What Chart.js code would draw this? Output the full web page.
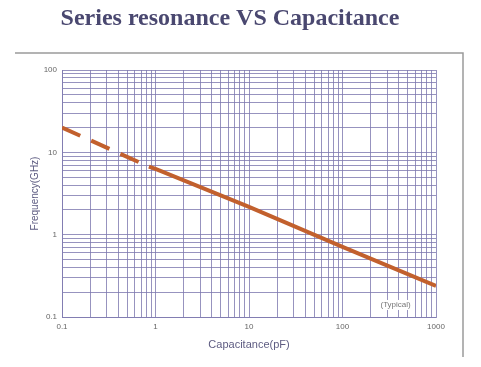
<!DOCTYPE html>
<html>
<head>
<meta charset="utf-8">
<script src="https://cdn.jsdelivr.net/npm/chart.js@4.4.0/dist/chart.umd.min.js"></script>
<style>
  html, body { margin: 0; padding: 0; background: #fff; }
  #wrap { width: 481px; height: 367px; }
</style>
</head>
<body>
<div id="wrap"><canvas id="chart" width="481" height="367"></canvas></div>
<script>
// Capacitance (pF) vs series resonance (GHz)
const capDashed = [0.1, 0.85];
const freqDashed = [20, 6.7];
const capSolid = [0.85, 1, 10, 100, 1000];
const freqSolid = [6.7, 6.3, 2.17, 0.71, 0.238];

// grid lines and labels
const xGrid = [0.1, 0.2, 0.3, 0.4, 0.5, 0.6, 0.7, 0.8, 0.9,
  1, 2, 3, 4, 5, 6, 7, 8, 9,
  10, 20, 30, 40, 50, 60, 70, 80, 90,
  100, 200, 300, 400, 500, 600, 700, 800, 900, 1000];
const yGrid = [0.1, 0.2, 0.3, 0.4, 0.5, 0.6, 0.7, 0.8, 0.9,
  1, 2, 3, 4, 5, 6, 7, 8, 9,
  10, 20, 30, 40, 50, 60, 70, 80, 90, 100];
const xLabels = [0.1, 1, 10, 100, 1000];
const yLabels = [0.1, 1, 10, 100];

const lineColor = '#c2602d';
const gridColor = 'rgba(125,120,175,0.8)';

const toPoints = (xs, ys) => xs.map((x, i) => ({ x: x, y: ys[i] }));

// title, frame and "(Typical)" note
const extras = {
  id: 'extras',
  beforeDraw(chart) {
    const ctx = chart.ctx;
    ctx.save();
    ctx.fillStyle = '#fff';
    ctx.fillRect(0, 0, chart.width, chart.height);
    ctx.restore();
  },
  afterDraw(chart) {
    const ctx = chart.ctx;
    const xs = chart.scales.x, ys = chart.scales.y;
    ctx.save();
    ctx.font = 'bold 24px "Liberation Serif", "Times New Roman", serif';
    ctx.fillStyle = '#4a4870';
    ctx.textAlign = 'center';
    ctx.textBaseline = 'alphabetic';
    ctx.fillText('Series resonance VS Capacitance', 230, 25);

    ctx.strokeStyle = '#9a9a9a';
    ctx.lineWidth = 1.5;
    ctx.beginPath();
    ctx.moveTo(15, 53);
    ctx.lineTo(463, 53);
    ctx.lineTo(463, 357);
    ctx.stroke();

    const tx = xs.getPixelForValue(370), ty = ys.getPixelForValue(0.14);
    ctx.font = '8px "Liberation Sans", Arial, sans-serif';
    ctx.textBaseline = 'middle';
    const w = ctx.measureText('(Typical)').width;
    ctx.fillStyle = '#fff';
    ctx.fillRect(tx - w / 2 - 2, ty - 5, w + 4, 10);
    ctx.fillStyle = '#777';
    ctx.fillText('(Typical)', tx, ty);
    ctx.restore();
  }
};

new Chart(document.getElementById('chart'), {
  type: 'scatter',
  data: {
    datasets: [{
      data: toPoints(capDashed, freqDashed),
      showLine: true,
      borderColor: lineColor,
      borderWidth: 4,
      borderDash: [20, 12],
      pointRadius: 0
    }, {
      data: toPoints(capSolid, freqSolid),
      showLine: true,
      borderColor: lineColor,
      borderWidth: 4,
      pointRadius: 0
    }]
  },
  options: {
    responsive: false,
    animation: false,
    layout: { padding: { top: 70, right: 45, left: 25, bottom: 12 } },
    plugins: { legend: { display: false }, tooltip: { enabled: false } },
    scales: {
      x: {
        type: 'logarithmic',
        min: 0.1,
        max: 1000,
        afterBuildTicks: s => { s.ticks = xGrid.map(v => ({ value: v })); },
        afterFit: s => { s.height = 38; },
        grid: { color: gridColor, lineWidth: 1, drawTicks: false },
        border: { color: gridColor },
        ticks: {
          autoSkip: false,
          maxRotation: 0,
          padding: 5,
          color: '#666',
          font: { family: '"Liberation Sans", Arial, sans-serif', size: 8 },
          callback: v => xLabels.includes(v) ? String(v) : ''
        },
        title: {
          display: true,
          text: 'Capacitance(pF)',
          color: '#5e5c82',
          font: { family: '"Liberation Sans", Arial, sans-serif', size: 11 },
          padding: { top: 4, bottom: 3 }
        }
      },
      y: {
        type: 'logarithmic',
        min: 0.1,
        max: 100,
        afterBuildTicks: s => { s.ticks = yGrid.map(v => ({ value: v })); },
        afterFit: s => { s.width = 37; },
        grid: { color: gridColor, lineWidth: 1, drawTicks: false },
        border: { color: gridColor },
        ticks: {
          autoSkip: false,
          padding: 5,
          color: '#666',
          font: { family: '"Liberation Sans", Arial, sans-serif', size: 8 },
          callback: v => yLabels.includes(v) ? String(v) : ''
        },
        title: {
          display: true,
          text: 'Frequency(GHz)',
          color: '#5e5c82',
          font: { family: '"Liberation Sans", Arial, sans-serif', size: 10 },
          padding: { top: 4, bottom: 4 }
        }
      }
    }
  },
  plugins: [extras]
});
</script>
</body>
</html>
